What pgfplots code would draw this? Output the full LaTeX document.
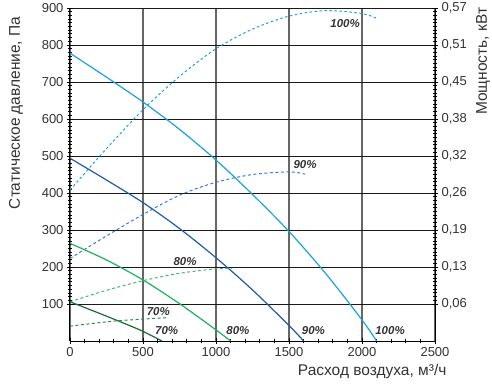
\documentclass[border=0pt]{standalone}
\usepackage{pgfplots}
\pgfplotsset{compat=1.18}
\usepackage{fontspec}
\setmainfont{Liberation Sans}
\definecolor{cA}{HTML}{1BA1E2}
\definecolor{cB}{HTML}{1F5BA8}
\definecolor{cBd}{HTML}{3A7BD5}
\definecolor{cC}{HTML}{1DB35B}
\definecolor{cCd}{HTML}{3DBB6E}
\definecolor{cD}{HTML}{1E6B3A}
\definecolor{cDd}{HTML}{2E8B50}
\definecolor{txt}{HTML}{333333}
\begin{document}
\begin{tikzpicture}
\pgfplotsset{
  common/.style={
    scale only axis, width=365pt, height=333pt,
    xmin=0, xmax=2500, ymin=0, ymax=900,
    /pgf/number format/assume math mode=true,
    /pgf/number format/set thousands separator={},
    tick label style={font=\fontsize{13}{15}\selectfont, text=txt},
    axis line style={black, line width=1pt},
    tick style={black, line width=0.8pt},
    major tick length=6pt, minor tick length=4pt,
  }
}
\begin{axis}[common,
  xtick={0,500,1000,1500,2000,2500},
  minor x tick num=4,
  ytick={100,200,300,400,500,600,700,800,900},
  minor y tick num=9,
  tick align=center,
  xmajorgrids, ymajorgrids,
  major x grid style={black!60, line width=1.3pt},
  major y grid style={black!90, line width=0.9pt},
  axis x line*=bottom, axis y line*=left,
  xlabel={Расход воздуха, м³/ч},
  ylabel={Статическое давление, Па},
  label style={font=\fontsize{15.5}{17}\selectfont, text=txt},
  xlabel style={at={(axis description cs:1.041,-0.093)}, anchor=east},
  ylabel style={at={(axis description cs:-0.148,0.685)}, anchor=center},
  every axis plot/.append style={smooth, no marks},
]
% 100%
\addplot[cA, line width=1.2pt] coordinates {(0,778) (250,713) (500,646) (750,572) (1000,489) (1250,396) (1500,296) (1750,183) (2000,57) (2100,0)};
\addplot[cA, line width=1pt, dash pattern=on 2.5pt off 2.5pt] coordinates {(0,408) (250,520) (500,625) (750,715) (1000,790) (1250,843) (1500,878) (1750,893) (2000,885) (2100,872)};
% 90%
\addplot[cB, line width=1.2pt] coordinates {(0,494) (250,435) (500,374) (750,304) (1000,225) (1250,138) (1500,42) (1600,0)};
\addplot[cBd, line width=1pt, dash pattern=on 3pt off 2.5pt] coordinates {(0,223) (250,284) (500,342) (750,394) (1000,429) (1250,450) (1500,457) (1610,451)};
% 80%
\addplot[cC, line width=1.2pt] coordinates {(0,264) (250,219) (500,165) (750,101) (1000,30) (1100,0)};
\addplot[cCd, line width=1pt, dash pattern=on 3pt off 2.5pt] coordinates {(0,106) (250,137) (500,163) (750,183) (1000,195) (1110,196)};
% 70%
\addplot[cD, line width=1.2pt] coordinates {(0,106) (200,75) (400,43) (500,26) (630,0)};
\addplot[cDd, line width=1pt, dash pattern=on 3pt off 2.5pt] coordinates {(0,40) (308,54) (662,63)};
% labels
\begin{scope}[every node/.style={font=\fontsize{11.5}{13}\selectfont\bfseries\itshape, text=txt}]
\node at (axis cs:1884,859) {100\%};
\node at (axis cs:1610,478) {90\%};
\node at (axis cs:788,216) {80\%};
\node at (axis cs:605,79) {70\%};
\node at (axis cs:662,28) {70\%};
\node at (axis cs:1150,28) {80\%};
\node at (axis cs:1667,28) {90\%};
\node at (axis cs:2192,28) {100\%};
\end{scope}
\end{axis}
\begin{axis}[common,
  axis x line=none, axis y line*=right,
  ytick={100,200,300,400,500,600,700,800,900},
  yticklabels={{0,06},{0,13},{0,19},{0,26},{0,32},{0,38},{0,45},{0,51},{0,57}},
  minor y tick num=9,
  tick align=center,
  ylabel={Мощность, кВт},
  label style={font=\fontsize{15.5}{17}\selectfont, text=txt},
  ylabel style={at={(axis description cs:1.1315,0.84)}, anchor=center, rotate=0},
]
\addplot[draw=none] coordinates {(0,0)};
\end{axis}
\pgfresetboundingbox
\path[use as bounding box] (-70pt,-44pt) rectangle (422pt,341pt);
\end{tikzpicture}
\end{document}
